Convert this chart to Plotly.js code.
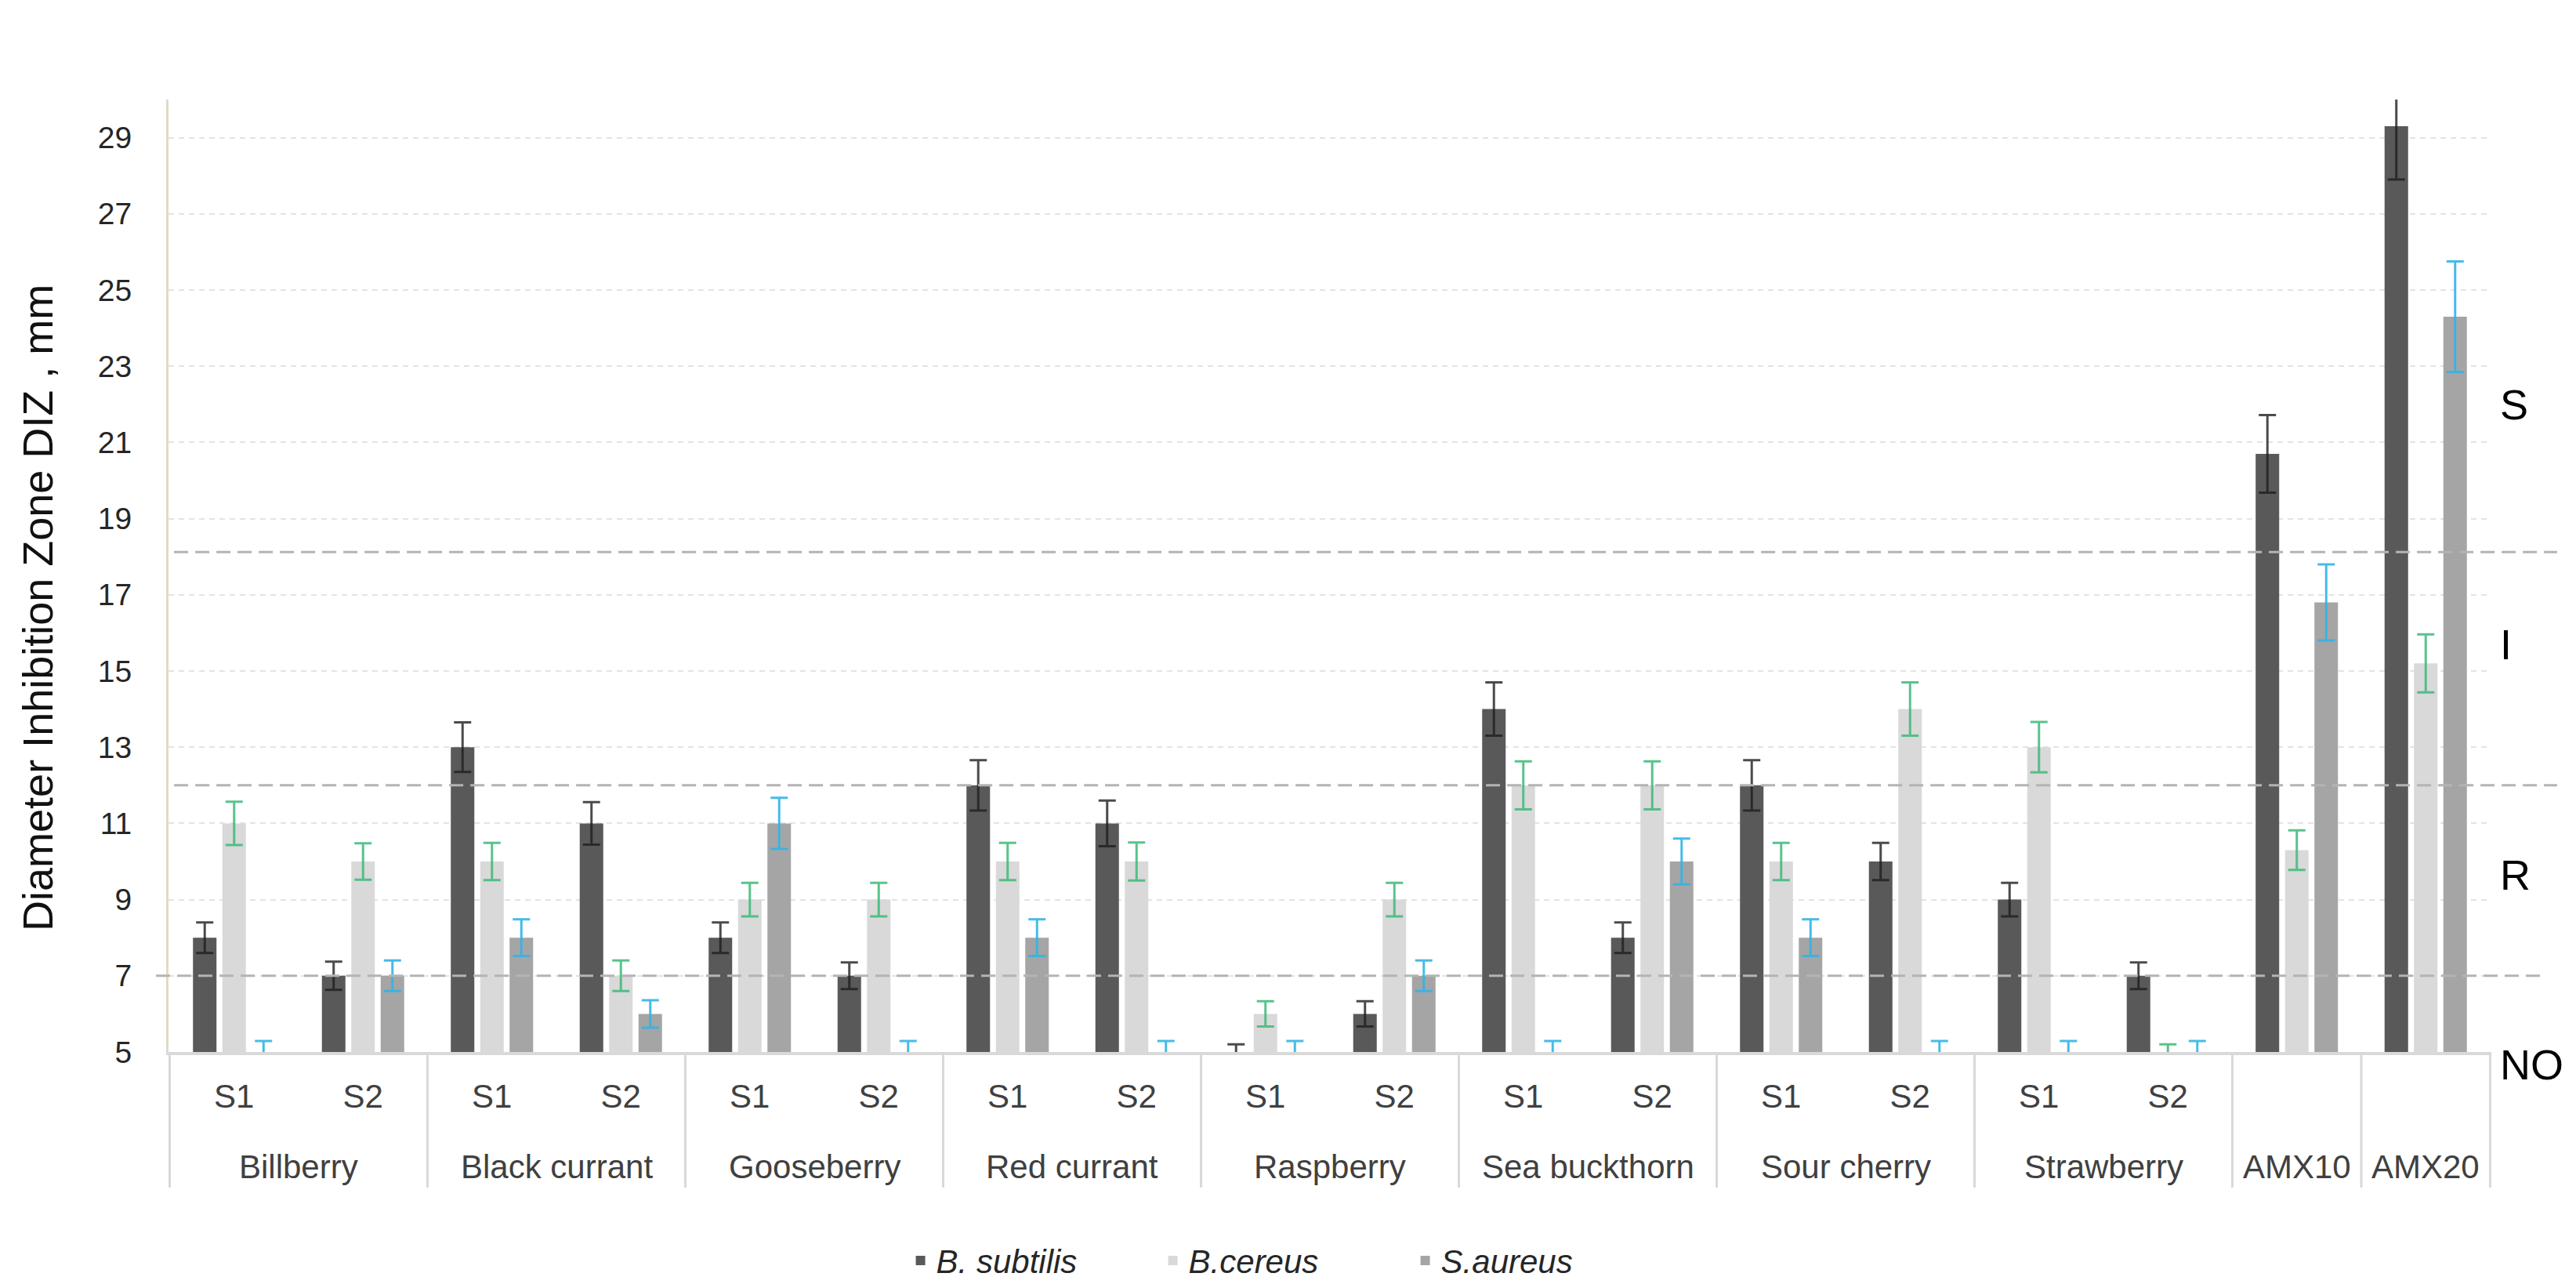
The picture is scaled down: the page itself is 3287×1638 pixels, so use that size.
<!DOCTYPE html>
<html>
<head>
<meta charset="utf-8">
<script src="https://cdn.plot.ly/plotly-3.0.1.min.js"></script>
<style>html,body{margin:0;padding:0;background:#fff;}#chart{width:3287px;height:1638px;}</style>
</head>
<body>
<div id="chart"></div>
<script>
// ---- data ----
const groups = ['Billberry','Billberry','Black currant','Black currant','Gooseberry','Gooseberry','Red currant','Red currant','Raspberry','Raspberry','Sea buckthorn','Sea buckthorn','Sour cherry','Sour cherry','Strawberry','Strawberry','AMX10','AMX20'];
const samples = ['S1','S2','S1','S2','S1','S2','S1','S2','S1','S2','S1','S2','S1','S2','S1','S2','',''];
const seriesNames = ['B. subtilis','B.cereus','S.aureus'];
const subtilis    = [8,7,13,11,8,7,12,11,5,6,14,8,12,10,9,7,20.7,29.3];
const subtilisErr = [0.4,0.37,0.65,0.56,0.4,0.35,0.66,0.6,0.2,0.33,0.7,0.4,0.66,0.49,0.44,0.35,1.02,1.4];
const cereus      = [11,10,10,7,9,9,10,10,6,9,12,12,10,14,13,5,10.3,15.2];
const cereusErr   = [0.57,0.48,0.49,0.4,0.44,0.44,0.49,0.5,0.33,0.44,0.63,0.63,0.49,0.7,0.66,0.2,0.52,0.76];
const aureus      = [5,7,8,6,11,5,8,5,5,7,5,10,8,5,5,5,16.8,24.3];
const aureusErr   = [0.29,0.4,0.48,0.36,0.67,0.29,0.48,0.29,0.29,0.4,0.29,0.6,0.48,0.29,0.29,0.29,1.0,1.45];
const yTicks = [5,7,9,11,13,15,17,19,21,23,25,27,29];
const yRange = [5,30];
const thresholds = [18.12, 12, 7];
const zoneLabels = ['S','I','R','NO'];
const zoneLabelY = [22.0, 15.7, 9.65, 4.67];
const yTitle = 'Diameter Inhibition Zone DIZ , mm';

// ---- styles ----
const barColors = ['#595959','#d9d9d9','#a5a5a5'];
const errColors = ['rgba(30,30,30,0.8)','rgba(60,185,120,0.85)','rgba(50,180,230,0.9)'];
const labFont = 'Liberation Sans, Arial, sans-serif';

// category keys (one slot per group/sample pair)
const keys = groups.map((g,i)=> g + ' ' + samples[i]);

const vals = [subtilis, cereus, aureus];
const errs = [subtilisErr, cereusErr, aureusErr];

const traces = vals.map((v,i)=>({
  type:'bar',
  name: seriesNames[i],
  x:keys,
  y:v,
  marker:{color:barColors[i], line:{width:0}},
  error_y:{type:'data', array:errs[i], visible:true, color:errColors[i], thickness:3, width:11}
}));

// group spans derived from the groups array
const spans = [];
groups.forEach((g,i)=>{
  if (!spans.length || spans[spans.length-1].name !== g) spans.push({name:g, start:i, end:i});
  else spans[spans.length-1].end = i;
});

const shapes = [];
thresholds.forEach((t,i)=>shapes.push({
  type:'line', xref:'paper', yref:'y',
  x0: i===2 ? -0.0054 : 0.0024,
  x1: i===2 ? 1.021 : 1.0283,
  y0:t, y1:t,
  line:{color:'#b4b4b4', width:3, dash:'18px,9px'},
  layer:'above'
}));
// group dividers below the axis
const divBottom = -0.1424;
const bounds = [spans[0].start - 0.5].concat(spans.map(s=>s.end + 0.5));
bounds.forEach(b=>shapes.push({
  type:'line', xref:'x', yref:'paper', x0:b, x1:b, y0:0, y1:divBottom,
  line:{color:'#d9d9d9', width:3}, layer:'below'
}));

const toPaper = v => (v - yRange[0])/(yRange[1]-yRange[0]);
const annotations = zoneLabels.map((s,i)=>({
  text:s, xref:'paper', yref:'paper', x:1.003, y:toPaper(zoneLabelY[i]),
  xanchor:'left', yanchor:'middle', showarrow:false,
  font:{family:labFont, size:54, color:'#000'}
}));
spans.forEach(s=>annotations.push({
  text:s.name, xref:'x', yref:'paper', x:(s.start + s.end)/2, y:-0.1202,
  xanchor:'center', yanchor:'middle', showarrow:false,
  font:{family:labFont, size:42, color:'#404040'}
}));
annotations.push({
  text:yTitle, textangle:-90, xref:'paper', yref:'paper', x:-0.0563, y:0.466,
  xanchor:'center', yanchor:'middle', showarrow:false,
  font:{family:labFont, size:54, color:'#111'}
});

const layout = {
  width:3287, height:1638,
  margin:{l:215, r:108, t:127, b:296, autoexpand:false},
  paper_bgcolor:'#fff', plot_bgcolor:'#fff',
  barmode:'group', bargap:0.316, bargroupgap:0.2,
  showlegend:true,
  legend:{orientation:'h', x:0.317, xanchor:'left', y:-0.219, yanchor:'middle',
    font:{family:labFont, size:42, color:'#262626', style:'italic'},
    entrywidth:277, entrywidthmode:'pixels', itemwidth:30, traceorder:'normal'},
  xaxis:{type:'category', showline:true, linecolor:'#d9d9d9', linewidth:4, showgrid:false, ticks:'',
    tickvals:keys, ticktext:samples, ticklabelstandoff:17, automargin:false,
    tickfont:{family:labFont, size:42, color:'#404040'}},
  yaxis:{range:yRange, tickvals:yTicks, showgrid:true, gridcolor:'#e3e3e3', gridwidth:2, griddash:'7px,6px',
    zeroline:false, showline:true, linecolor:'#e0dbc6', linewidth:3, ticks:'', automargin:false,
    ticklabelstandoff:36,
    tickfont:{family:labFont, size:39, color:'#262626'}},
  shapes:shapes,
  annotations:annotations
};

Plotly.newPlot('chart', traces, layout, {displayModeBar:false, staticPlot:true});
</script>
</body>
</html>
